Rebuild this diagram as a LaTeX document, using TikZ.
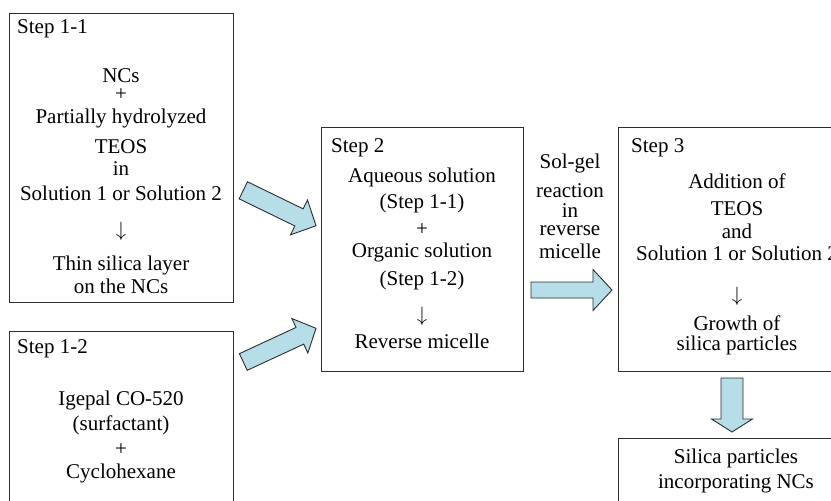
\documentclass[tikz,border=0pt]{standalone}
\usepackage{fontspec}
\setmainfont{Liberation Serif}
\usetikzlibrary{calc}
\definecolor{arrowblue}{RGB}{183,222,232}
\definecolor{linegray}{RGB}{45,45,45}
\tikzset{
  stepbox/.style={draw=linegray, line width=1pt, inner sep=0pt},
  txt/.style={anchor=base, inner sep=0pt, font=\fontsize{21}{25}\selectfont},
  steplabel/.style={txt, anchor=base west},
  blockarrow/.style={draw=linegray, line width=0.9pt, fill=arrowblue},
}
% fat arrow: tail, tip, shaft half width, head half width, head length
\newcommand{\fatarrow}[5]{%
  \coordinate (hb) at ($(#2)!#5!(#1)$);
  \draw[blockarrow] ($(#1)!#3!90:(#2)$) -- ($(hb)!#3!90:(#2)$) -- ($(hb)!#4!90:(#2)$)
    -- (#2) -- ($(hb)!#4!-90:(#2)$) -- ($(hb)!#3!-90:(#2)$) -- ($(#1)!#3!-90:(#2)$) -- cycle;
}
\begin{document}
\begin{tikzpicture}[x=1pt, y=-1pt]
\clip (0,0) rectangle (831,501);
\fill[white] (0,0) rectangle (831,501);

% boxes
\node[stepbox, minimum width=224, minimum height=289] (box11) at (121,157.5) {};
\node[stepbox, minimum width=224, minimum height=189] (box12) at (121,425.5) {};
\node[stepbox, minimum width=202, minimum height=244] (box2) at (422,249) {};
\node[stepbox, minimum width=238, minimum height=244] (box3) at (737,249) {};
\node[stepbox, minimum width=238, minimum height=82] (box4) at (737,479) {};

% Step 1-1
\node[steplabel] (t11) at (17,33) {Step 1-1};
\node[txt] (t11a) at (121,82) {NCs};
\node[txt] (t11b) at (121,100) {+};
\node[txt] (t11c) at (121,123) {Partially hydrolyzed};
\node[txt] (t11d) at (121,153) {TEOS};
\node[txt] (t11e) at (121,175) {in};
\node[txt] (t11f) at (121,200) {Solution 1 or Solution 2};
\node[txt] (t11g) at (121,236) {$\downarrow$};
\node[txt] (t11h) at (121,270) {Thin silica layer};
\node[txt] (t11i) at (121,293) {on the NCs};

% Step 1-2
\node[steplabel] (t12) at (17,353) {Step 1-2};
\node[txt] (t12a) at (121,405) {Igepal CO-520};
\node[txt] (t12b) at (121,430) {(surfactant)};
\node[txt] (t12c) at (121,455) {+};
\node[txt] (t12d) at (121,478) {Cyclohexane};

% Step 2
\node[steplabel] (t2) at (331,152) {Step 2};
\node[txt] (t2a) at (422,182) {Aqueous solution};
\node[txt] (t2b) at (422,208) {(Step 1-1)};
\node[txt] (t2c) at (422,235) {+};
\node[txt] (t2d) at (422,257) {Organic solution};
\node[txt] (t2e) at (422,285) {(Step 1-2)};
\node[txt] (t2f) at (422,321) {$\downarrow$};
\node[txt] (t2g) at (422,348) {Reverse micelle};

% sol-gel label
\node[txt] (sg1) at (570,168) {Sol-gel};
\node[txt] (sg2) at (570,197) {reaction};
\node[txt] (sg3) at (570,217) {in};
\node[txt] (sg4) at (570,235) {reverse};
\node[txt] (sg5) at (570,258) {micelle};

% Step 3
\node[steplabel] (t3) at (631,152) {Step 3};
\node[txt] (t3a) at (737,188) {Addition of};
\node[txt] (t3b) at (737,215) {TEOS};
\node[txt] (t3c) at (737,238) {and};
\node[txt] (t3d) at (737,260) {Solution 1 or Solution 2};
\node[txt] (t3e) at (737,301) {$\downarrow$};
\node[txt] (t3f) at (737,330) {Growth of};
\node[txt] (t3g) at (737,350) {silica particles};

% result
\node[txt] (t4a) at (736,463) {Silica particles};
\node[txt] (t4b) at (736,488) {incorporating NCs};

% block arrows
\coordinate (a1s) at (243.3,190.3);
\coordinate (a1e) at (316,225.7);
\coordinate (a2s) at (243.3,362);
\coordinate (a2e) at (316,328.3);
\coordinate (a3s) at (531,290);
\coordinate (a3e) at (612,290);
\coordinate (a4s) at (732,378);
\coordinate (a4e) at (732,432);
\fatarrow{a1s}{a1e}{9.5pt}{19.4pt}{18.9pt}
\fatarrow{a2s}{a2e}{9.2pt}{19pt}{17.8pt}
\fatarrow{a3s}{a3e}{8pt}{20.5pt}{19pt}
\fatarrow{a4s}{a4e}{11pt}{20.5pt}{13pt}
\end{tikzpicture}
\end{document}
